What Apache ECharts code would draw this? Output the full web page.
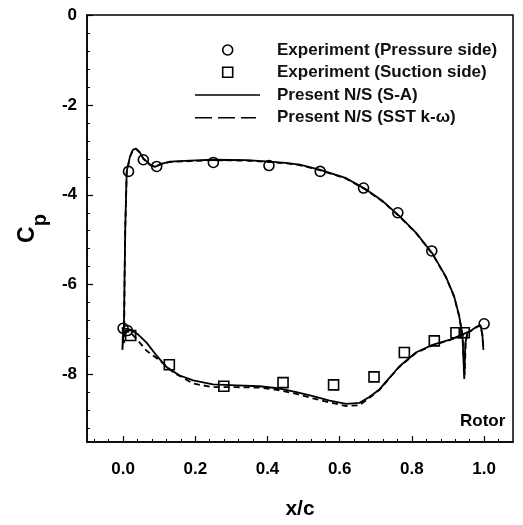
<!DOCTYPE html>
<html>
<head>
<meta charset="utf-8">
<script src="https://cdn.jsdelivr.net/npm/echarts@6/dist/echarts.min.js"></script>
<style>
html, body { margin: 0; padding: 0; background: #fff; }
#chart { width: 523px; height: 525px; }
</style>
</head>
<body>
<div id="chart"></div>
<script>
// experiment, pressure side (circles)
var expPressure = [
    [0.015, -3.48], [0.056, -3.22], [0.093, -3.37], [0.25, -3.28], [0.404, -3.35],
    [0.546, -3.48], [0.666, -3.85], [0.761, -4.40], [0.855, -5.25], [1.0, -6.87],
    [0.0, -6.97], [0.012, -7.02]
]
// experiment, suction side (squares)
var expSuction = [
    [0.021, -7.13], [0.128, -7.78], [0.279, -8.26], [0.443, -8.18], [0.583, -8.23],
    [0.695, -8.05], [0.779, -7.51], [0.862, -7.25], [0.922, -7.07], [0.945, -7.07]
]
// S-A, upper branch
var saPressure = [
    [0.0, -7.0], [-0.002, -7.45], [0.002, -7.05], [0.004, -5.9], [0.006, -4.73],
    [0.01, -3.48], [0.019, -3.15], [0.027, -3.0], [0.035, -2.97], [0.045, -3.04],
    [0.056, -3.19], [0.075, -3.33], [0.088, -3.38], [0.102, -3.32], [0.13, -3.26],
    [0.185, -3.24], [0.249, -3.22], [0.342, -3.23], [0.406, -3.26], [0.45, -3.29],
    [0.489, -3.33], [0.544, -3.44], [0.618, -3.63], [0.673, -3.88], [0.719, -4.14],
    [0.765, -4.47], [0.811, -4.84], [0.857, -5.31], [0.894, -5.82], [0.917, -6.26],
    [0.931, -6.7], [0.94, -7.12], [0.945, -8.1], [0.948, -7.3], [0.953, -7.1]
]
// S-A, lower branch
var saSuction = [
    [-0.004, -6.96], [0.019, -7.0], [0.042, -7.11], [0.065, -7.29], [0.093, -7.58],
    [0.121, -7.84], [0.157, -8.02], [0.194, -8.13], [0.249, -8.22], [0.314, -8.24],
    [0.378, -8.26], [0.434, -8.31], [0.48, -8.39], [0.526, -8.48], [0.572, -8.58],
    [0.618, -8.65], [0.655, -8.63], [0.682, -8.5], [0.71, -8.33], [0.74, -8.05],
    [0.765, -7.82], [0.811, -7.51], [0.857, -7.34], [0.903, -7.23], [0.931, -7.14],
    [0.96, -7.04], [0.98, -6.93], [0.99, -6.9], [0.995, -7.1], [0.998, -7.45]
]
// SST k-w, upper branch
var sstPressure = [
    [0.0, -7.0], [0.003, -7.3], [0.004, -5.9], [0.006, -4.75],
    [0.01, -3.5], [0.019, -3.16], [0.027, -3.01], [0.035, -2.98], [0.045, -3.05],
    [0.056, -3.2], [0.075, -3.34], [0.088, -3.38], [0.102, -3.33], [0.13, -3.27],
    [0.185, -3.25], [0.249, -3.23], [0.342, -3.24], [0.406, -3.27], [0.45, -3.3],
    [0.489, -3.34], [0.544, -3.45], [0.618, -3.64], [0.673, -3.89], [0.719, -4.15],
    [0.765, -4.48], [0.811, -4.85], [0.857, -5.32], [0.894, -5.83], [0.917, -6.27],
    [0.931, -6.71], [0.94, -7.13], [0.946, -8.0], [0.949, -7.3], [0.953, -7.1]
]
// SST k-w, lower branch
var sstSuction = [
    [0.0, -7.05], [0.019, -7.05], [0.042, -7.25], [0.065, -7.47], [0.102, -7.69],
    [0.139, -7.95], [0.194, -8.2], [0.249, -8.28], [0.314, -8.28], [0.378, -8.29],
    [0.434, -8.35], [0.48, -8.43], [0.526, -8.53], [0.572, -8.62], [0.618, -8.7],
    [0.655, -8.68], [0.682, -8.52], [0.71, -8.34], [0.74, -8.06], [0.765, -7.83],
    [0.811, -7.52], [0.857, -7.35], [0.903, -7.24], [0.931, -7.15], [0.96, -7.05],
    [0.98, -6.94], [0.99, -6.91], [0.995, -7.12], [0.998, -7.4]
]
var xTicks = [0.0, 0.2, 0.4, 0.6, 0.8, 1.0]
var xMinor = [-0.08, -0.04, 0.04, 0.08, 0.12, 0.16, 0.24, 0.28, 0.32, 0.36, 0.44, 0.48,
    0.52, 0.56, 0.64, 0.68, 0.72, 0.76, 0.84, 0.88, 0.92, 0.96, 1.04]
var yTicks = [0, -2, -4, -6, -8]
var yMinor = [-0.4, -0.8, -1.2, -1.6, -2.4, -2.8, -3.2, -3.6, -4.4, -4.8, -5.2, -5.6,
    -6.4, -6.8, -7.2, -7.6, -8.4, -8.8, -9.2]

var FONT = 'Liberation Sans'
var names = ['Experiment (Pressure side)', 'Experiment (Suction side)', 'Present N/S (S-A)', 'Present N/S (SST k-\u03c9)']

var myChart = echarts.init(document.getElementById('chart'))

var lineSeries = function(name, data, type) {
    return {
        name: name,
        type: 'line',
        data: data,
        symbol: 'none',
        silent: true,
        z: 2,
        itemStyle: { color: '#000' },
        lineStyle: { color: '#000', width: 1.8, type: type }
    }
}

// legend drawn by hand, the built-in one can't space icon and text like the original
var legendText = function(i, y) {
    return {
        type: 'text', x: 277, y: y,
        style: { text: names[i], fontFamily: FONT, fontWeight: 'bold', fontSize: 17, fill: '#111', verticalAlign: 'middle' }
    }
}

option = {
    animation: false,
    backgroundColor: '#fff',
    grid: {
        left: 87, right: 10, top: 15, bottom: 79,
        show: true, borderColor: '#000', borderWidth: 1.5
    },
    xAxis: [{
        type: 'value',
        min: -0.1,
        max: 1.08,
        name: 'x/c',
        nameLocation: 'middle',
        nameGap: 57,
        nameTextStyle: { fontFamily: FONT, fontWeight: 'bold', fontSize: 21, color: '#000' },
        axisLine: { onZero: false, lineStyle: { color: '#000', width: 1.5 } },
        axisTick: { inside: true, length: 6, customValues: xTicks, lineStyle: { color: '#000', width: 1.2 } },
        axisLabel: {
            customValues: xTicks, margin: 19,
            fontFamily: FONT, fontWeight: 'bold', fontSize: 17, color: '#000',
            formatter: function(v) { return v.toFixed(1) }
        },
        splitLine: { show: false }
    }, {
        type: 'value',
        min: -0.1,
        max: 1.08,
        position: 'bottom',
        axisLine: { show: false, onZero: false },
        axisTick: { inside: true, length: 3, customValues: xMinor, lineStyle: { color: '#000', width: 1 } },
        axisLabel: { show: false },
        splitLine: { show: false }
    }],
    yAxis: [{
        type: 'value',
        min: -9.5,
        max: 0,
        name: '{c|C}{p|p}',
        nameLocation: 'middle',
        nameGap: 41,
        nameRotate: 90,
        nameTextStyle: {
            rich: {
                c: { fontFamily: FONT, fontWeight: 'bold', fontSize: 23, color: '#000', verticalAlign: 'top', lineHeight: 30 },
                p: { fontFamily: FONT, fontWeight: 'bold', fontSize: 20, color: '#000', verticalAlign: 'top', lineHeight: 30, padding: [14, 0, 0, 0] }
            }
        },
        axisLine: { onZero: false, lineStyle: { color: '#000', width: 1.5 } },
        axisTick: { inside: true, length: 6, customValues: yTicks, lineStyle: { color: '#000', width: 1.2 } },
        axisLabel: {
            customValues: yTicks, margin: 10,
            fontFamily: FONT, fontWeight: 'bold', fontSize: 17, color: '#000'
        },
        splitLine: { show: false }
    }, {
        type: 'value',
        min: -9.5,
        max: 0,
        position: 'left',
        axisLine: { show: false, onZero: false },
        axisTick: { inside: true, length: 3, customValues: yMinor, lineStyle: { color: '#000', width: 1 } },
        axisLabel: { show: false },
        splitLine: { show: false }
    }],
    graphic: [
        { type: 'circle', shape: { cx: 227.7, cy: 50, r: 5 }, style: { fill: 'none', stroke: '#000', lineWidth: 1.6 } },
        { type: 'rect', shape: { x: 222.7, y: 67.3, width: 10, height: 10 }, style: { fill: 'none', stroke: '#000', lineWidth: 1.6 } },
        { type: 'line', shape: { x1: 195, y1: 95, x2: 260, y2: 95 }, style: { stroke: '#000', lineWidth: 1.6 } },
        { type: 'line', shape: { x1: 195, y1: 117.7, x2: 256, y2: 117.7 }, style: { stroke: '#000', lineWidth: 1.6, lineDash: [17, 6] } },
        legendText(0, 50), legendText(1, 72.3), legendText(2, 95), legendText(3, 117.7),
        {
            type: 'text', x: 460, y: 421.5,
            style: { text: 'Rotor', fontFamily: FONT, fontWeight: 'bold', fontSize: 17, fill: '#000', verticalAlign: 'middle' }
        }
    ],
    series: [{
        name: names[0],
        type: 'scatter',
        data: expPressure,
        symbol: 'circle',
        symbolSize: 10,
        z: 3,
        itemStyle: { color: 'rgba(255,255,255,0)', borderColor: '#000', borderWidth: 1.6, opacity: 1 }
    }, {
        name: names[1],
        type: 'scatter',
        data: expSuction,
        symbol: 'rect',
        symbolSize: 10,
        z: 3,
        itemStyle: { color: 'rgba(255,255,255,0)', borderColor: '#000', borderWidth: 1.6, opacity: 1 }
    },
        lineSeries(names[2], saPressure, 'solid'),
        lineSeries(names[2], saSuction, 'solid'),
        lineSeries(names[3], sstPressure, [6, 4]),
        lineSeries(names[3], sstSuction, [6, 4])
    ]
}

option && myChart.setOption(option)
</script>
</body>
</html>
